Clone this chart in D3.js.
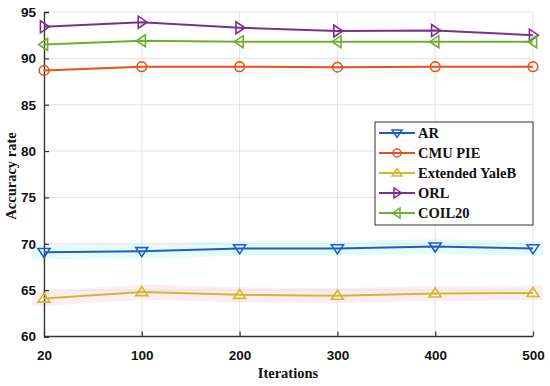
<!DOCTYPE html>
<html><head><meta charset="utf-8">
<script src="https://cdn.jsdelivr.net/npm/d3@7"></script>
<style>body{margin:0;background:#fff}</style>
</head><body>
<svg id="c" width="550" height="386"></svg>
<script>
const categories = ["20","100","200","300","400","500"];
const yTicks = [60,65,70,75,80,85,90,95];
const seriesNames = ["AR","CMU PIE","Extended YaleB","ORL","COIL20"];
const arValues = [69.1,69.2,69.5,69.5,69.7,69.5];
const cmuValues = [88.7,89.1,89.1,89.05,89.1,89.1];
const yaleValues = [64.1,64.8,64.5,64.4,64.65,64.7];
const orlValues = [93.4,93.9,93.3,92.95,93.0,92.5];
const coilValues = [91.5,91.9,91.8,91.8,91.8,91.8];
const colors = ["#1f5dc4","#e8501c","#d4b82a","#7e2f8e","#6fae32"];
const markers = ["tdown","circle","tup","tright","tleft"];
const allValues = [arValues,cmuValues,yaleValues,orlValues,coilValues];
const bandColors = ["#e3fbfb","#fcedf3"];

const svg = d3.select("#c");
const m = {l:44,r:533,t:12,b:336.5};
const x = d3.scalePoint().domain(categories).range([m.l,m.r]);
const y = d3.scaleLinear().domain([60,95]).range([m.b,m.t]);

// bands (slightly extended past the axes, as in the reference)
[[arValues,0],[yaleValues,1]].forEach(([vals,i])=>{
  const pts = vals.map((d,j)=>[x(categories[j]),d]);
  pts.unshift([m.l-12,vals[0]]);
  pts.push([m.r+10,vals[vals.length-1]]);
  const area = d3.area().x(p=>p[0]).y0(p=>y(p[1]-0.8)).y1(p=>y(p[1]+0.8));
  svg.append("path").datum(pts).attr("d",area).attr("fill",bandColors[i]);
});

// grid
svg.append("g").selectAll("line").data(yTicks).join("line")
  .attr("x1",m.l).attr("x2",m.r).attr("y1",d=>y(d)).attr("y2",d=>y(d))
  .attr("stroke","#e2e2e2").attr("stroke-width",1);
svg.append("g").selectAll("line").data(categories).join("line")
  .attr("x1",d=>x(d)).attr("x2",d=>x(d)).attr("y1",m.t).attr("y2",m.b)
  .attr("stroke","#e2e2e2").attr("stroke-width",1);

// axes
const xa = svg.append("g").attr("transform",`translate(0,${m.b})`)
  .call(d3.axisBottom(x).tickSize(-5).tickPadding(14));
const ya = svg.append("g").attr("transform",`translate(${m.l},0)`)
  .call(d3.axisLeft(y).tickValues(yTicks).tickSize(-5).tickPadding(8));
[xa,ya].forEach(a=>{
  a.select(".domain").attr("stroke","#333").attr("stroke-width",1.3);
  a.selectAll(".tick line").attr("stroke","#333").attr("stroke-width",1.2);
  a.selectAll("text").attr("font-family","Liberation Sans, Arial, sans-serif")
   .attr("font-weight","bold").attr("font-size","13.5px").attr("fill","#111");
});
xa.selectAll(".domain").attr("d",`M${m.l},0H${m.r}`);

function markerPath(type, s){
  const r = s/2;
  switch(type){
    case "tdown": return `M${-r},${-r*0.6}L${r},${-r*0.6}L0,${r*0.9}Z`;
    case "tup": return `M${-r},${r*0.6}L${r},${r*0.6}L0,${-r*0.9}Z`;
    case "tright": return `M${-r*0.6},${-r}L${-r*0.6},${r}L${r*0.9},0Z`;
    case "tleft": return `M${r*0.6},${-r}L${r*0.6},${r}L${-r*0.9},0Z`;
    default: return `M${r*0.8},0A${r*0.8},${r*0.8} 0 1 1 ${-r*0.8},0A${r*0.8},${r*0.8} 0 1 1 ${r*0.8},0Z`;
  }
}

const line = d3.line().x((d,j)=>x(categories[j])).y(d=>y(d));
allValues.forEach((vals,i)=>{
  const g = svg.append("g");
  g.append("path").datum(vals).attr("d",line).attr("fill","none")
    .attr("stroke",colors[i]).attr("stroke-width",2);
  g.selectAll("path.mk").data(vals).join("path").attr("class","mk")
    .attr("transform",(d,j)=>`translate(${x(categories[j])},${y(d)})`)
    .attr("d",markerPath(markers[i],12)).attr("fill","none")
    .attr("stroke",colors[i]).attr("stroke-width",1.6);
});

// axis titles
svg.append("text").attr("x",288).attr("y",378).attr("text-anchor","middle")
  .attr("font-family","Liberation Serif, serif").attr("font-weight","bold")
  .attr("font-size","14.5px").attr("fill","#111").text("Iterations");
svg.append("text").attr("transform","translate(16,176) rotate(-90)").attr("text-anchor","middle")
  .attr("font-family","Liberation Serif, serif").attr("font-weight","bold")
  .attr("font-size","14.5px").attr("fill","#111").text("Accuracy rate");

// legend
const lg = svg.append("g");
lg.append("rect").attr("x",375).attr("y",122).attr("width",158).attr("height",103)
  .attr("fill","#fff").attr("stroke","#333").attr("stroke-width",1);
seriesNames.forEach((n,i)=>{
  const yy = 133 + i*20;
  lg.append("line").attr("x1",379).attr("x2",415).attr("y1",yy).attr("y2",yy)
    .attr("stroke",colors[i]).attr("stroke-width",2);
  lg.append("path").attr("transform",`translate(397,${yy})`).attr("d",markerPath(markers[i],10))
    .attr("fill","none").attr("stroke",colors[i]).attr("stroke-width",1.5);
  lg.append("text").attr("x",418).attr("y",yy+5).attr("font-family","Liberation Serif, serif")
    .attr("font-weight","bold").attr("font-size","14.5px").attr("fill","#111").text(n);
});
</script>
</body></html>
